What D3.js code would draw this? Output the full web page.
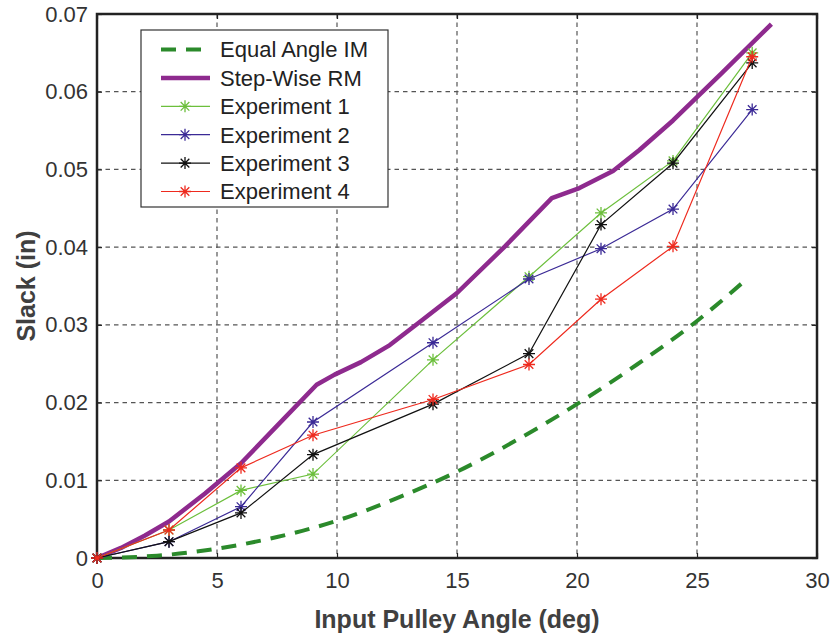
<!DOCTYPE html>
<html>
<head>
<meta charset="utf-8">
<title>Slack vs Input Pulley Angle</title>
<script src="https://d3js.org/d3.v7.min.js"></script>
<style>
  body { margin: 0; background: #fff; }
  svg { font-family: Arial, "Liberation Sans", Helvetica, sans-serif; }
  .tick-label { font-size: 22px; fill: #333; }
  .axis-title { font-size: 25px; font-weight: bold; fill: #404040; }
  .grid line { stroke: #555; stroke-width: 1.2px; stroke-dasharray: 4.5,4; }
  .legend-text { font-size: 22px; fill: #222; }
</style>
</head>
<body>
<svg id="chart"></svg>
<script>
// data
var expAngles = [0, 3, 6, 9, 14, 18, 21, 24, 27.3];
var exp1 = [0, 0.0036, 0.0087, 0.0108, 0.0255, 0.0362, 0.0444, 0.0511, 0.0650];
var exp2 = [0, 0.0021, 0.0066, 0.0175, 0.0277, 0.0359, 0.0398, 0.0449, 0.0577];
var exp3 = [0, 0.0021, 0.0058, 0.0133, 0.0198, 0.0263, 0.0429, 0.0508, 0.0637];
var exp4 = [0, 0.0036, 0.0116, 0.0158, 0.0204, 0.0249, 0.0333, 0.0401, 0.0645];

var rmAngles = [0, 1, 2, 3, 4.5, 6, 7.5, 9.15, 9.9, 11, 12.2, 13.5, 15, 17, 18.95, 20.1, 21.5, 22.6, 24, 26, 28.1];
var rmSlack = [0, 0.0013, 0.0029, 0.0047, 0.0083, 0.0122, 0.0170, 0.0223, 0.0236, 0.0252, 0.0274, 0.0305, 0.0341, 0.0401, 0.0463, 0.0476, 0.0498, 0.0525, 0.0563, 0.0623, 0.0687];

var imAngles = [0, 2.5, 5, 7.5, 10, 12.5, 15, 17.5, 20, 22.5, 25, 27];
var imSlack = [0, 0.0003, 0.0012, 0.0027, 0.0048, 0.0077, 0.0111, 0.0152, 0.0198, 0.0249, 0.0305, 0.0357];

var xTicks = [0, 5, 10, 15, 20, 25, 30];
var yTicks = [0, 0.01, 0.02, 0.03, 0.04, 0.05, 0.06, 0.07];

var seriesNames = ["Equal Angle IM", "Step-Wise RM", "Experiment 1", "Experiment 2", "Experiment 3", "Experiment 4"];
var seriesColors = ["#2b8a2b", "#8e2a8e", "#6cbf3c", "#3b2a96", "#111111", "#ee2a1e"];

// layout
var svgWidth = 833, svgHeight = 635,
  margin = { top: 14, right: 16, bottom: 77, left: 97 },
  width = svgWidth - margin.left - margin.right,
  height = svgHeight - margin.top - margin.bottom;

var svg = d3.select("#chart").attr("width", svgWidth).attr("height", svgHeight);
var g = svg.append("g").attr("transform", "translate(" + [margin.left, margin.top] + ")");

var x = d3.scaleLinear().domain([0, 30]).range([0, width]);
var y = d3.scaleLinear().domain([0, 0.07]).range([height, 0]);

// grid
var grid = g.append("g").classed("grid", true);
grid.selectAll(".gx").data(xTicks.slice(1, -1)).enter().append("line")
  .attr("x1", function (d) { return x(d); }).attr("x2", function (d) { return x(d); })
  .attr("y1", 0).attr("y2", height);
grid.selectAll(".gy").data(yTicks.slice(1, -1)).enter().append("line")
  .attr("y1", function (d) { return y(d); }).attr("y2", function (d) { return y(d); })
  .attr("x1", 0).attr("x2", width);

// axes
var xAxis = g.append("g").attr("transform", "translate(0," + height + ")")
  .call(d3.axisBottom(x).tickValues(xTicks).tickSize(-5).tickPadding(14).tickFormat(d3.format("d")));
var yAxis = g.append("g")
  .call(d3.axisLeft(y).tickValues(yTicks).tickSize(-5).tickPadding(9).tickFormat(function (d) { return d === 0 ? "0" : d3.format(".2f")(d); }));
var xTop = g.append("g").call(d3.axisTop(x).tickValues(xTicks).tickSize(-5).tickFormat(""));
var yRight = g.append("g").attr("transform", "translate(" + width + ",0)")
  .call(d3.axisRight(y).tickValues(yTicks).tickSize(-5).tickFormat(""));

[xAxis, yAxis, xTop, yRight].forEach(function (a) {
  a.select(".domain").remove();
  a.selectAll(".tick line").attr("stroke", "#222").attr("stroke-width", 1.2);
  a.selectAll(".tick text").attr("class", "tick-label").attr("font-size", null).attr("font-family", null);
});

g.append("rect").attr("width", width).attr("height", height)
  .attr("fill", "none").attr("stroke", "#222").attr("stroke-width", 2.5);

// axis titles
g.append("text").classed("axis-title", true)
  .attr("x", width / 2).attr("y", height + 70).attr("text-anchor", "middle")
  .text("Input Pulley Angle (deg)");
g.append("text").classed("axis-title", true)
  .attr("transform", "translate(" + [-62, height / 2] + ") rotate(-90)")
  .attr("text-anchor", "middle")
  .text("Slack (in)");

// lines
var line = d3.line().x(function (d) { return x(d[0]); }).y(function (d) { return y(d[1]); });
var smooth = d3.line().curve(d3.curveMonotoneX).x(function (d) { return x(d[0]); }).y(function (d) { return y(d[1]); });

var plot = g.append("g");

plot.append("path")
  .attr("d", smooth(d3.zip(imAngles, imSlack)))
  .attr("fill", "none").attr("stroke", seriesColors[0]).attr("stroke-width", 4)
  .attr("stroke-dasharray", "15,10");

plot.append("path")
  .attr("d", line(d3.zip(rmAngles, rmSlack)))
  .attr("fill", "none").attr("stroke", seriesColors[1]).attr("stroke-width", 4.5)
  .attr("stroke-linejoin", "round");

function asterisk(r) {
  var a = r * 0.72;
  return "M" + (-r) + ",0L" + r + ",0M0," + (-r) + "L0," + r +
    "M" + (-a) + "," + (-a) + "L" + a + "," + a + "M" + (-a) + "," + a + "L" + a + "," + (-a);
}

var exps = [exp1, exp2, exp3, exp4];
exps.forEach(function (vals, i) {
  var pts = d3.zip(expAngles, vals);
  var col = seriesColors[i + 2];
  plot.append("path").attr("d", line(pts))
    .attr("fill", "none").attr("stroke", col).attr("stroke-width", 1.2);
  plot.selectAll(".m" + i).data(pts).enter().append("path")
    .attr("transform", function (d) { return "translate(" + [x(d[0]), y(d[1])] + ")"; })
    .attr("d", asterisk(6))
    .attr("fill", "none").attr("stroke", col).attr("stroke-width", 1.3);
});

// legend
var lg = svg.append("g").attr("transform", "translate(141,30)");
lg.append("rect").attr("width", 247).attr("height", 177)
  .attr("fill", "#fff").attr("stroke", "#333").attr("stroke-width", 1.2);
var rows = lg.selectAll(".row").data(seriesNames).enter().append("g")
  .attr("transform", function (d, i) { return "translate(0," + (19.5 + i * 28.4) + ")"; });
rows.append("line").attr("x1", 20).attr("x2", 69).attr("y1", 0).attr("y2", 0)
  .attr("stroke", function (d, i) { return seriesColors[i]; })
  .attr("stroke-width", function (d, i) { return i === 0 ? 4 : (i === 1 ? 4.5 : 1.2); })
  .attr("stroke-dasharray", function (d, i) { return i === 0 ? "15,10" : null; });
rows.filter(function (d, i) { return i >= 2; }).append("path")
  .attr("transform", "translate(44,0)")
  .attr("d", asterisk(6))
  .attr("fill", "none").attr("stroke", function (d) { return seriesColors[seriesNames.indexOf(d)]; })
  .attr("stroke-width", 1.3);
rows.append("text").classed("legend-text", true)
  .attr("x", 79).attr("y", 0).attr("dy", "0.36em")
  .text(function (d) { return d; });
</script>
</body>
</html>
